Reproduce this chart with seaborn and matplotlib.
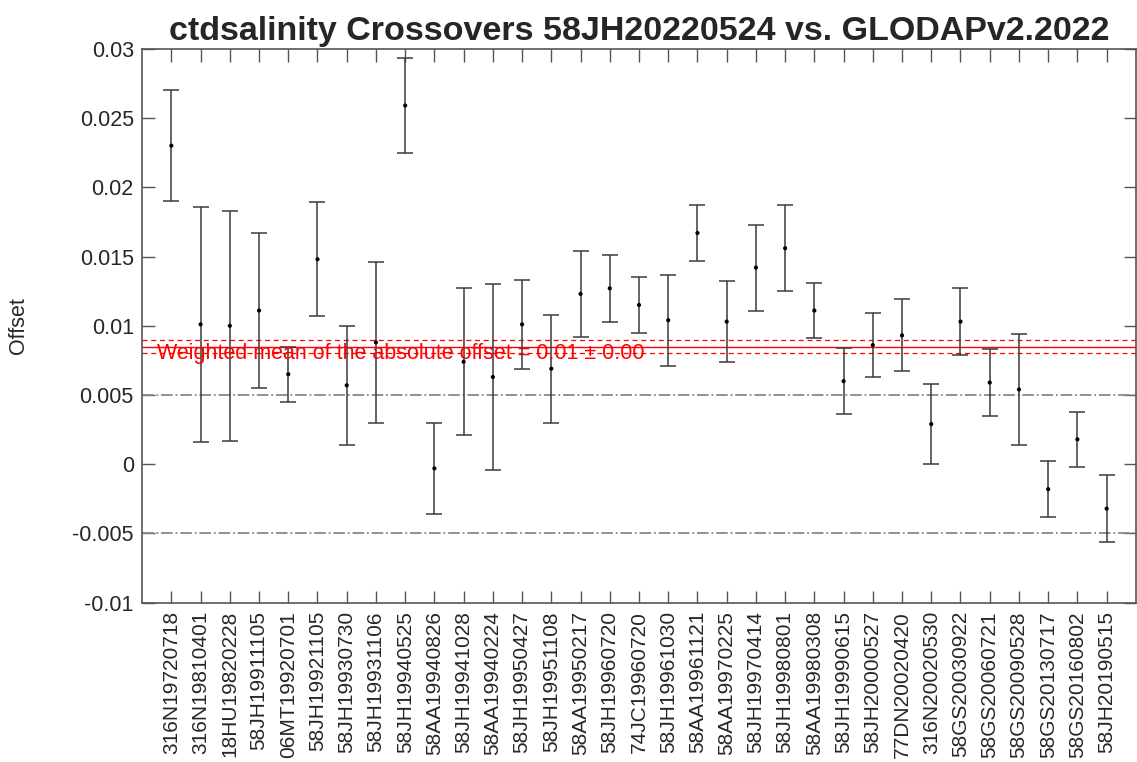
import matplotlib
matplotlib.use("Agg")
import matplotlib.pyplot as plt
import numpy as np
import pandas as pd
import seaborn as sns

cruises = [
    "316N19720718", "316N19810401", "18HU19820228", "58JH19911105", "06MT19920701",
    "58JH19921105", "58JH19930730", "58JH19931106", "58JH19940525", "58AA19940826",
    "58JH19941028", "58AA19940224", "58JH19950427", "58JH19951108", "58AA19950217",
    "58JH19960720", "74JC19960720", "58JH19961030", "58AA19961121", "58AA19970225",
    "58JH19970414", "58JH19980801", "58AA19980308", "58JH19990615", "58JH20000527",
    "77DN20020420", "316N20020530", "58GS20030922", "58GS20060721", "58GS20090528",
    "58GS20130717", "58GS20160802", "58JH20190515",
]
offset = [
    0.0230, 0.0101, 0.0100, 0.0111, 0.0065, 0.0148, 0.0057, 0.0088, 0.0259, -0.0003,
    0.0074, 0.0063, 0.0101, 0.0069, 0.0123, 0.0127, 0.0115, 0.0104, 0.0167, 0.0103,
    0.0142, 0.0156, 0.0111, 0.0060, 0.0086, 0.0093, 0.0029, 0.0103, 0.0059, 0.0054,
    -0.0018, 0.0018, -0.0032,
]
offset_err = [
    0.0040, 0.0085, 0.0083, 0.0056, 0.0020, 0.0041, 0.0043, 0.0058, 0.0034, 0.0033,
    0.0053, 0.0067, 0.0032, 0.0039, 0.0031, 0.0024, 0.0020, 0.0033, 0.0020, 0.0029,
    0.0031, 0.0031, 0.0020, 0.0024, 0.0023, 0.0026, 0.0029, 0.0024, 0.0024, 0.0040,
    0.0020, 0.0020, 0.0024,
]
wmean = 0.0085
wmean_err = 0.0005
limit = 0.005

df = pd.DataFrame({"cruise": cruises, "offset": offset, "err": offset_err})
df["pos"] = np.arange(1, len(df) + 1)

sns.set_style("white")
plt.rcParams["font.family"] = ["Liberation Sans", "DejaVu Sans"]

fig = plt.figure(figsize=(11.37, 7.62), dpi=100)
ax = fig.add_axes([0.125, 0.209, 0.874, 0.727])

ax.errorbar(df["pos"], df["offset"], yerr=df["err"], fmt="none",
            ecolor="#3a3a3a", elinewidth=1.1, capsize=6, capthick=1.1, zorder=3)
sns.scatterplot(data=df, x="pos", y="offset", ax=ax, color="black", s=9,
                edgecolor="none", zorder=4, legend=False)

ax.axhline(limit, color="#888888", ls="-.", lw=1.3, zorder=1)
ax.axhline(-limit, color="#888888", ls="-.", lw=1.3, zorder=1)
ax.axhline(wmean, color="red", lw=1.0, zorder=2)
ax.axhline(wmean + wmean_err, color="red", ls="--", lw=0.9, dashes=(4, 3), zorder=2)
ax.axhline(wmean - wmean_err, color="red", ls="--", lw=0.9, dashes=(4, 3), zorder=2)
ax.text(0.5, wmean - wmean_err,
        f"Weighted mean of the absolute offset = {wmean:.2f} \u00b1 {wmean_err:.2f}",
        color="red", fontsize=15.5, va="center", ha="left", zorder=5)

ax.set_xlim(0, len(df) + 1)
ax.set_ylim(-0.01, 0.03)
ax.set_xticks(df["pos"])
ax.set_xticklabels(df["cruise"], rotation=90, fontsize=15)
ax.set_yticks(np.arange(-0.01, 0.0301, 0.005))
ax.set_yticklabels(["-0.01", "-0.005", "0", "0.005", "0.01", "0.015", "0.02", "0.025", "0.03"],
                   fontsize=15.5)
ax.tick_params(direction="in", length=9, width=1, color="#555555",
               top=True, right=True, bottom=True, left=True, pad=6)
for s in ax.spines.values():
    s.set_color("#555555")
    s.set_linewidth(1.2)

ax.set_xlabel("")
ax.set_ylabel("Offset", fontsize=15.5, labelpad=31)
ax.set_title("ctdsalinity Crossovers 58JH20220524 vs. GLODAPv2.2022",
             fontsize=24.5, fontweight="bold", pad=6)

fig.savefig("out.png", dpi=100)
